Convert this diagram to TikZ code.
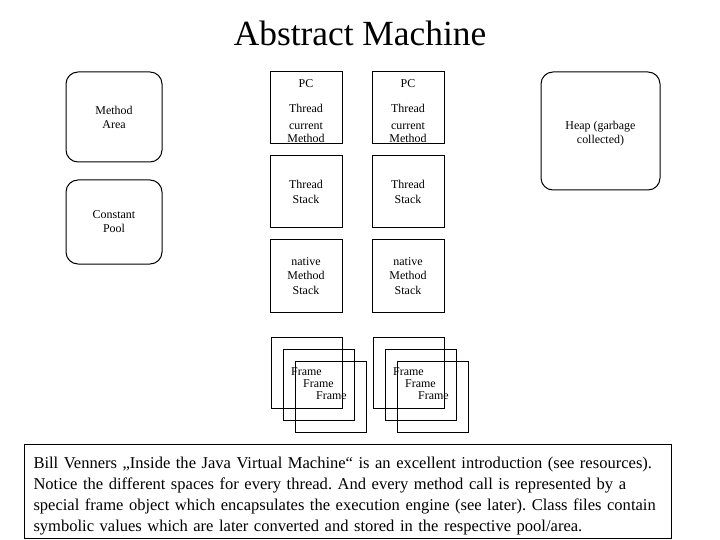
\documentclass[tikz,border=0pt]{standalone}
\usepackage{fontspec}
\setmainfont{Liberation Serif}
\frenchspacing
\begin{document}
\begin{tikzpicture}[x=1bp, y=-1bp]
	\tikzstyle{Area} = [rectangle, rounded corners=12bp, draw=black, line width=1bp, text centered, align=center, font=\fontsize{12}{14}\selectfont]
	\tikzstyle{Box} = [rectangle, minimum width=72bp, minimum height=72bp, text centered, align=center, draw=black, line width=1bp, font=\fontsize{12}{14.5}\selectfont]
	\tikzstyle{Label} = [align=center, yshift=-3bp, font=\fontsize{12}{13}\selectfont]
	\tikzstyle{FrameBox} = [rectangle, minimum width=71bp, minimum height=71bp, draw=black, line width=1bp]
	\tikzstyle{FrameText} = [inner sep=0pt, anchor=west, font=\fontsize{12}{14}\selectfont]
	\tikzstyle{Note} = [rectangle, anchor=north west, minimum width=647bp, minimum height=94bp, text width=629bp, inner xsep=9bp, inner ysep=0pt, align=left, draw=black, line width=1bp, font=\fontsize{16.6}{21}\selectfont]
	
	\useasboundingbox (0,0) rectangle (720,540);
	\node (title) [anchor=base, font=\fontsize{35.5}{38}\selectfont] at (360,46) {Abstract Machine};
	
	% shared areas
	\node (method) [Area, minimum width=96bp, minimum height=90bp] at (114,117) {Method\\Area};
	\node (pool) [Area, minimum width=96bp, minimum height=84bp] at (114,222) {Constant\\Pool};
	\node (heap) [Area, minimum width=119bp, minimum height=118bp, label={[Label, font=\fontsize{12}{14}\selectfont]center:Heap (garbage\\collected)}] at (600.5,131) {};
	
	% first thread
	\node (pc1) [Box, label={[Label]center:PC\\[12bp]Thread\\[4bp]current\\Method}] at (306,108) {};
	\node (stack1) [Box] at (306,192) {Thread\\Stack};
	\node (native1) [Box] at (306,276) {native\\Method\\Stack};
	\node (fa1) [FrameBox] at (306.5,372.5) {};
	\node (fb1) [FrameBox] at (318.5,384.5) {};
	\node (fc1) [FrameBox] at (330.5,396.5) {};
	\node (ta1) [FrameText] at (291,372) {Frame};
	\node (tb1) [FrameText] at (303,384) {Frame};
	\node (tc1) [FrameText] at (316,396) {Frame};
	
	% second thread
	\node (pc2) [Box, label={[Label]center:PC\\[12bp]Thread\\[4bp]current\\Method}] at (408,108) {};
	\node (stack2) [Box] at (408,192) {Thread\\Stack};
	\node (native2) [Box] at (408,276) {native\\Method\\Stack};
	\node (fa2) [FrameBox] at (408.5,372.5) {};
	\node (fb2) [FrameBox] at (420.5,384.5) {};
	\node (fc2) [FrameBox] at (432.5,396.5) {};
	\node (ta2) [FrameText] at (393,372) {Frame};
	\node (tb2) [FrameText] at (405,384) {Frame};
	\node (tc2) [FrameText] at (418,396) {Frame};
	
	\node (note) [Note] at (24,444) {\rule{0pt}{20.5bp}Bill Venners „Inside the Java Virtual Machine“ is an excellent introduction (see resources).\\
		Notice the different spaces for every thread. And every method call is represented by a\\
		special frame object which encapsulates the execution engine (see later). Class files contain\\
		symbolic values which are later converted and stored in the respective pool/area.};
\end{tikzpicture}
\end{document}
